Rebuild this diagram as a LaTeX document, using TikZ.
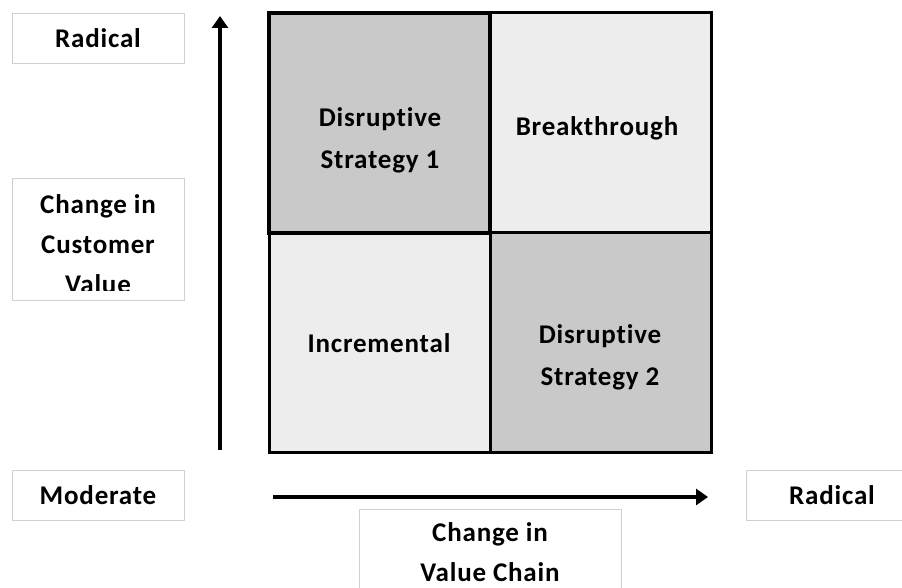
\documentclass[tikz,border=0pt]{standalone}
\usepackage{fontspec}
\setmainfont{Carlito}[LetterSpace=3.0, Ligatures=NoCommon]
\usetikzlibrary{arrows.meta,positioning}

\definecolor{darkcell}{RGB}{201,201,201}
\definecolor{lightcell}{RGB}{237,237,237}
\definecolor{sidegray}{RGB}{208,208,208}

\begin{document}
\begin{tikzpicture}[x=1pt,y=1pt,
cell/.style={rectangle, draw, line width=3pt, minimum width=221pt, minimum height=219.5pt, inner sep=0pt},
dark/.style={cell, fill=darkcell},
light/.style={cell, fill=lightcell},
celltext/.style={draw=none, fill=none, inner sep=0pt, align=center, font=\fontsize{27}{42}\selectfont\bfseries},
side/.style={rectangle, draw=sidegray, line width=0.8pt, fill=white, minimum width=172pt, minimum height=50pt, inner sep=0pt, align=center, font=\fontsize{27}{40}\selectfont\bfseries},
sidetext/.style={draw=none, fill=none, inner sep=0pt, align=center, font=\fontsize{27}{40}\selectfont\bfseries},
axis/.style={line width=3.2pt, -{Triangle[length=12pt,width=16pt]}}]

%% picture frame
\useasboundingbox (0,0) rectangle (902,-588);
\clip (0,0) rectangle (902,-588);

%% local variables
\def \lx {379.5}
\def \rx {600.5}
\def \ty {-122.75}
\def \by {-342.25}

%% place the four quadrants
\node[light] (BT) at (\rx,\ty) {};
\node[light] (INC) at (\lx,\by) {};
\node[dark] (DS2) at (\rx,\by) {};
%% upper left one has the heavier frame
\node[dark, line width=4pt] (DS1) at (\lx,\ty) {};

%% quadrant names
\node[celltext] (DS1-t) at (380,-140) {Disruptive\\Strategy 1};
\node[celltext] (BT-t) at (597,-128.4) {Breakthrough};
\node[celltext] (INC-t) at (379,-342.7) {Incremental};
\node[celltext] (DS2-t) at (600,-357) {Disruptive\\Strategy 2};

%% axes
\coordinate (V-from) at (220,-450);
\coordinate (V-to) at (220,-16);
\coordinate (H-from) at (273,-497);
\coordinate (H-to) at (708,-497);
\draw[axis] (V-from) -- (V-to);
\draw[axis] (H-from) -- (H-to);

%% labels of the vertical axis
\node[side] (V-high) at (98,-38) {Radical};
\node[side, minimum height=122pt] (V-box) at (98,-239) {};
\begin{scope}
\clip (12,-178) rectangle (184,-290);
\node[sidetext] (V-name) at (98,-243.7) {Change in\\Customer\\Value};
\end{scope}

%% labels of the horizontal axis
\node[side] (H-low) at (98,-495.5) {Moderate};
\node[side] (H-high) at (832,-495.5) {Radical};
\node[side, minimum width=262pt, minimum height=87pt] (H-name) at (490,-552.5) {Change in\\Value Chain};

\end{tikzpicture}
\end{document}
